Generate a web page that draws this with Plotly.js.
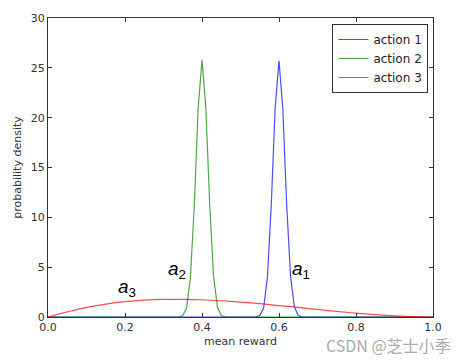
<!DOCTYPE html>
<html><head><meta charset="utf-8">
<script src="https://cdn.plot.ly/plotly-3.0.1.min.js"></script>
<style>html,body{margin:0;padding:0;background:#fff}</style>
</head><body><div id="chart" style="width:468px;height:360px"></div>
<script>
const seriesNames = ['action 1', 'action 2', 'action 3'];
const x1 = [0.0, 0.53, 0.54, 0.55, 0.56, 0.57, 0.58, 0.59, 0.60, 0.61, 0.62, 0.63, 0.64, 0.65, 0.66, 0.67, 1.0];
const y1 = [0, 0, 0.02, 0.15, 0.9, 4.0, 11.3, 21.0, 25.7, 20.8, 11.2, 4.1, 1.0, 0.15, 0.02, 0, 0];
const x2 = [0.0, 0.33, 0.34, 0.35, 0.36, 0.37, 0.38, 0.39, 0.40, 0.41, 0.42, 0.43, 0.44, 0.45, 0.46, 0.47, 1.0];
const y2 = [0, 0, 0.02, 0.15, 0.9, 4.0, 11.2, 20.9, 25.8, 21.0, 11.3, 4.1, 1.0, 0.15, 0.02, 0, 0];
const x3 = [0.0, 0.05, 0.10, 0.15, 0.20, 0.25, 0.30, 0.35, 0.40, 0.45, 0.50, 0.55, 0.60, 0.65, 0.70, 0.75, 0.80, 0.85, 0.90, 0.95, 1.0];
const y3 = [0, 0.51, 0.97, 1.30, 1.54, 1.69, 1.76, 1.77, 1.73, 1.63, 1.50, 1.34, 1.15, 0.96, 0.76, 0.56, 0.38, 0.23, 0.11, 0.03, 0];
const xTicks = [0.0, 0.2, 0.4, 0.6, 0.8, 1.0];
const xTickText = ['0.0', '0.2', '0.4', '0.6', '0.8', '1.0'];
const yTicks = [0, 5, 10, 15, 20, 25, 30];
const labels = [
  {text: '<i>a</i><sub>3</sub>', x: 0.205, y: 2.9},
  {text: '<i>a</i><sub>2</sub>', x: 0.335, y: 4.7},
  {text: '<i>a</i><sub>1</sub>', x: 0.657, y: 4.7}
];
const colors = ['rgba(0,0,255,0.7)', 'rgba(0,128,0,0.7)', 'rgba(255,0,0,0.7)'];

const traces = [[x1, y1], [x2, y2], [x3, y3]].map((d, i) => ({
  x: d[0], y: d[1], type: 'scatter', mode: 'lines', name: seriesNames[i],
  line: {color: colors[i], width: 1.2, shape: i === 2 ? 'spline' : 'linear'}
}));

const axisCommon = {
  showgrid: false, zeroline: false, showline: true, mirror: 'ticks',
  linecolor: '#333', linewidth: 1, ticks: 'inside', ticklen: 4, tickcolor: '#333',
  tickfont: {family: 'DejaVu Sans', size: 11, color: '#333'}
};

const layout = {
  width: 468, height: 360,
  margin: {l: 48, r: 35, t: 18, b: 43},
  paper_bgcolor: '#fff', plot_bgcolor: '#fff',
  showlegend: true,
  legend: {x: 0.988, y: 0.98, xanchor: 'right', yanchor: 'top', bordercolor: '#333', borderwidth: 1,
    bgcolor: '#fff', font: {family: 'DejaVu Sans', size: 12, color: '#222'}, tracegroupgap: 0},
  xaxis: Object.assign({}, axisCommon, {range: [0, 1], tickvals: xTicks, ticktext: xTickText,
    title: {text: 'mean reward', font: {family: 'DejaVu Sans', size: 11, color: '#333'}, standoff: 4}}),
  yaxis: Object.assign({}, axisCommon, {range: [0, 30], tickvals: yTicks,
    title: {text: 'probability density', font: {family: 'DejaVu Sans', size: 11, color: '#333'}, standoff: 6}}),
  annotations: labels.map(l => ({x: l.x, y: l.y, xref: 'x', yref: 'y', text: l.text, showarrow: false,
    font: {family: 'Liberation Sans, Arial', size: 19, color: '#000'}})).concat([
    {x: 1, y: 0, xref: 'paper', yref: 'paper', xanchor: 'right', yanchor: 'top', xshift: 20, yshift: -14,
     text: 'CSDN @芝士小季', showarrow: false,
     font: {family: 'Noto Sans CJK SC', size: 16, color: '#aaa'}}
  ])
};
Plotly.newPlot('chart', traces, layout, {displayModeBar: false, staticPlot: true});
</script></body></html>
